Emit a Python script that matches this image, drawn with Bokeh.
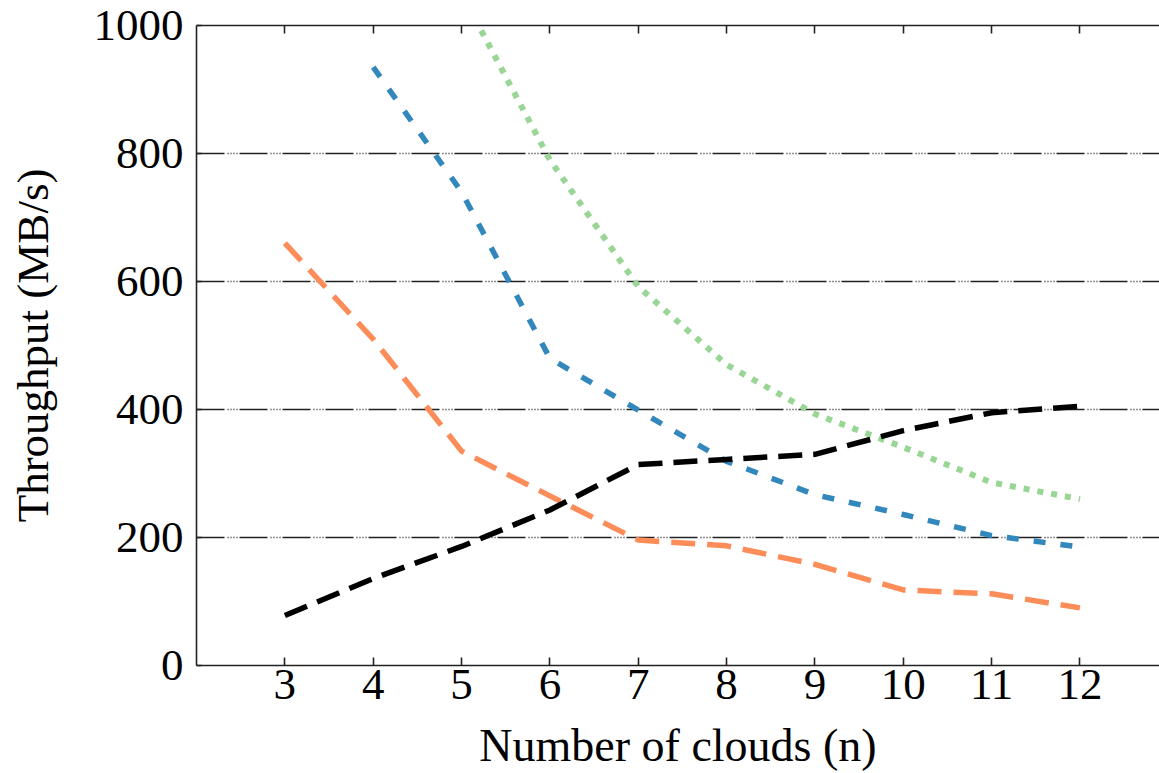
from bokeh.plotting import figure
from bokeh.models import LinearAxis, Range1d, FixedTicker
from bokeh.embed import file_html
from bokeh.resources import INLINE

# ---- data ----
n_black = [3, 4, 5, 6, 7, 8, 9, 10, 11, 12]
black_vals = [78, 136, 186, 243, 314, 322, 330, 367, 395, 405]

n_orange = [3, 4, 5, 6, 7, 8, 9, 10, 11, 12]
orange_vals = [660, 510, 335, 265, 196, 187, 158, 118, 112, 90]

n_blue = [4, 5, 6, 7, 8, 9, 10, 11, 12]
blue_vals = [935, 740, 480, 399, 319, 267, 236, 203, 185]

n_green = [5, 6, 7, 8, 9, 10, 11, 12]
green_vals = [1050, 790, 592, 470, 393, 341, 286, 260]

x_ticks = [3, 4, 5, 6, 7, 8, 9, 10, 11, 12]
y_ticks = [0, 200, 400, 600, 800, 1000]
grid_ticks = [200, 400, 600, 800]

FONT = "Liberation Serif"
AX = "#222222"

p = figure(width=1159, height=773, output_backend="svg", toolbar_location=None,
           x_range=Range1d(2, 12.9), y_range=Range1d(0, 1000),
           min_border_left=196, min_border_top=25, min_border_right=0,
           min_border_bottom=108,
           outline_line_color=None, background_fill_color="white",
           border_fill_color="white")

# gridlines
p.xgrid.grid_line_color = None
p.ygrid.grid_line_color = AX
p.ygrid.grid_line_width = 1.5
p.ygrid.grid_line_dash = "28 3 1 2 1 2 1 2 1 2"
p.ygrid.ticker = FixedTicker(ticks=grid_ticks)

# axes styling
for ax in [p.xaxis[0], p.yaxis[0]]:
    ax.axis_line_color = AX
    ax.axis_line_width = 1.6
    ax.major_tick_line_color = AX
    ax.major_tick_line_width = 1.6
    ax.major_tick_out = 0
    ax.minor_tick_line_color = None
    ax.major_label_text_font = FONT
    ax.major_label_text_font_size = "45px"
    ax.major_label_text_color = "black"
    ax.axis_label_text_font = FONT
    ax.axis_label_text_font_size = "46px"
    ax.axis_label_text_font_style = "normal"
    ax.axis_label_text_color = "black"

p.xaxis.ticker = FixedTicker(ticks=x_ticks)
p.xaxis.major_tick_in = 8
p.xaxis.major_label_standoff = 4
p.xaxis.axis_label = "Number of clouds (n)"
p.xaxis.axis_label_standoff = 18

p.yaxis.ticker = FixedTicker(ticks=y_ticks)
p.yaxis.major_tick_in = 5
p.yaxis.major_label_standoff = 13
p.yaxis.axis_label = "Throughput (MB/s)"
p.yaxis.axis_label_text_font_size = "45px"
p.yaxis.axis_label_standoff = 33

# top border with inward ticks (no labels)
top = LinearAxis(ticker=FixedTicker(ticks=x_ticks),
                 major_label_text_font_size="1px", major_label_text_color=None,
                 major_tick_in=8, major_tick_out=0, axis_line_color=AX,
                 axis_line_width=1.6, major_tick_line_color=AX,
                 major_tick_line_width=1.6, minor_tick_line_color=None,
                 major_label_standoff=0)
p.add_layout(top, "above")

# series
p.line(n_green, green_vals, line_color="#99d594", line_width=6, line_dash="6 8")
p.line(n_blue, blue_vals, line_color="#3288bd", line_width=5.5, line_dash="12 15")
p.line(n_orange, orange_vals, line_color="#fc8d59", line_width=5.5, line_dash="24 12")
p.line(n_black, black_vals, line_color="black", line_width=5.5, line_dash="24 11")

open("out.html", "w").write(file_html(p, INLINE))
